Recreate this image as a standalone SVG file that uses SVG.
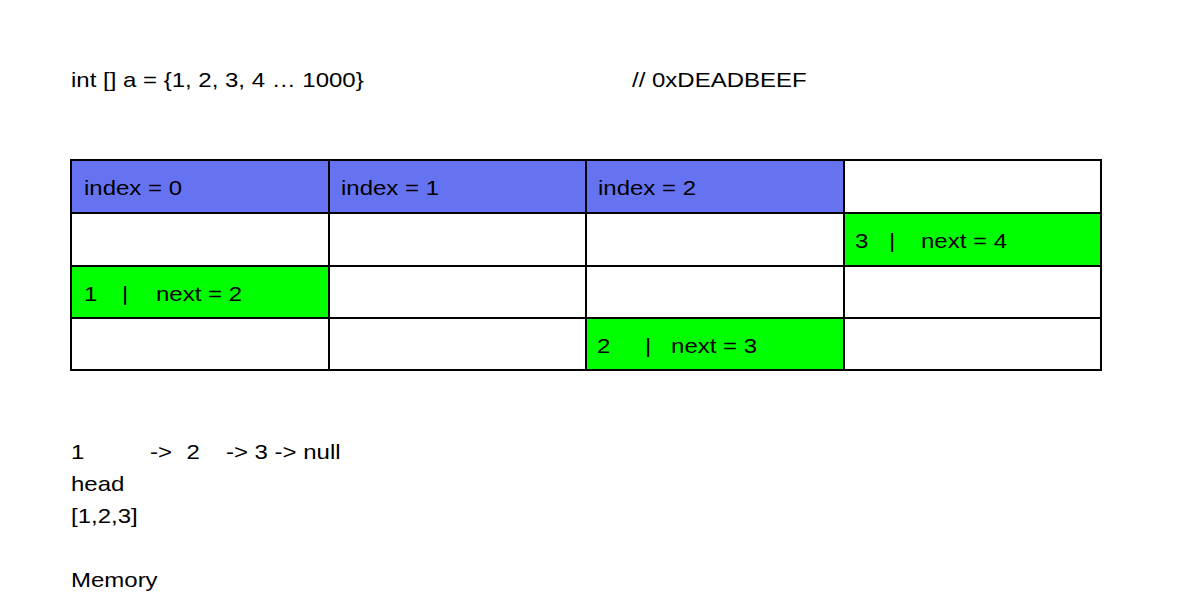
<svg xmlns="http://www.w3.org/2000/svg" width="1188" height="614" viewBox="0 0 1188 614">
  <style>
    text { font-family: "Liberation Sans", Arial, sans-serif; font-size: 20px; fill: #000; }
    .cell { stroke: #000; stroke-width: 2; }
    .idx { fill: #6673f0; }
    .node { fill: #00ff00; }
    .empty { fill: #ffffff; }
  </style>
  <rect width="1188" height="614" fill="#ffffff"/>

  <!-- all labels use a widened face: x coordinates below are in the 1.2x-scaled space -->
  <g id="header" transform="scale(1.2 1)">
    <text x="59.17" y="87">int [] a = {1, 2, 3, 4 … 1000}</text>
    <text x="526.67" y="87">// 0xDEADBEEF</text>
  </g>

  <!-- memory grid: 4 columns x 4 rows -->
  <g id="grid">
    <g id="row0">
      <rect class="cell idx" x="71" y="160" width="258" height="53"/>
      <rect class="cell idx" x="329" y="160" width="257" height="53"/>
      <rect class="cell idx" x="586" y="160" width="258" height="53"/>
      <rect class="cell empty" x="844" y="160" width="257" height="53"/>
    </g>
    <g id="row1">
      <rect class="cell empty" x="71" y="213" width="258" height="53"/>
      <rect class="cell empty" x="329" y="213" width="257" height="53"/>
      <rect class="cell empty" x="586" y="213" width="258" height="53"/>
      <rect class="cell node" x="844" y="213" width="257" height="53"/>
    </g>
    <g id="row2">
      <rect class="cell node" x="71" y="266" width="258" height="52"/>
      <rect class="cell empty" x="329" y="266" width="257" height="52"/>
      <rect class="cell empty" x="586" y="266" width="258" height="52"/>
      <rect class="cell empty" x="844" y="266" width="257" height="52"/>
    </g>
    <g id="row3">
      <rect class="cell empty" x="71" y="318" width="258" height="52"/>
      <rect class="cell empty" x="329" y="318" width="257" height="52"/>
      <rect class="cell node" x="586" y="318" width="258" height="52"/>
      <rect class="cell empty" x="844" y="318" width="257" height="52"/>
    </g>
  </g>

  <g id="index0" transform="scale(1.2 1)"><text x="70" y="195">index = 0</text></g>
  <g id="index1" transform="scale(1.2 1)"><text x="284.17" y="195">index = 1</text></g>
  <g id="index2" transform="scale(1.2 1)"><text x="498.33" y="195">index = 2</text></g>

  <g id="node3" transform="scale(1.2 1)"><text y="248"><tspan x="712.5">3</tspan><tspan x="740.8">|</tspan><tspan x="767.5">next = 4</tspan></text></g>
  <g id="node1" transform="scale(1.2 1)"><text y="301"><tspan x="70">1</tspan><tspan x="101.7">|</tspan><tspan x="130">next = 2</tspan></text></g>
  <g id="node2" transform="scale(1.2 1)"><text y="353"><tspan x="497.5">2</tspan><tspan x="537.5">|</tspan><tspan x="559.2">next = 3</tspan></text></g>

  <g id="notes" transform="scale(1.2 1)">
    <text y="459"><tspan x="59.17">1</tspan><tspan x="125">-&gt;</tspan><tspan x="155.4">2</tspan><tspan x="188.3">-&gt; 3 -&gt; null</tspan></text>
    <text x="59.17" y="491">head</text>
    <text x="59.17" y="523">[1,2,3]</text>
    <text x="59.17" y="587">Memory</text>
  </g>

  <g id="connectors"></g>
</svg>
